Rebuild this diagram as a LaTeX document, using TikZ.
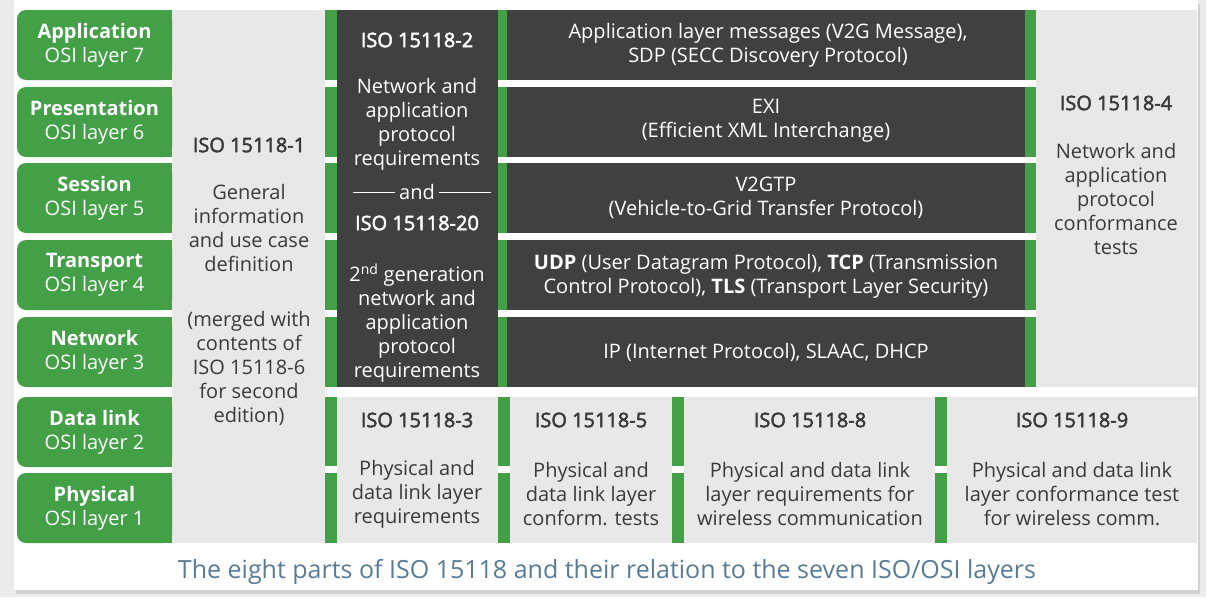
\documentclass[tikz,border=0pt]{standalone}
\usepackage{fontspec}
\setmainfont{Open Sans}
\newfontfamily\semib[FakeBold=2.5]{Open Sans}
\definecolor{osigreen}{RGB}{67,160,71}
\definecolor{darkbox}{RGB}{64,64,64}
\definecolor{lightbox}{RGB}{232,232,232}
\definecolor{textdark}{RGB}{58,58,58}
\definecolor{captioncol}{RGB}{88,124,150}
\definecolor{pagebg}{RGB}{236,236,236}
\begin{document}
\begin{tikzpicture}[x=1pt,y=-1pt,
  txt/.style={font=\fontsize{20}{24}\selectfont, align=center, inner sep=0pt},
  lt/.style={txt, text=textdark},
  wt/.style={txt, text=white},
  ttl/.style={font=\semib\fontsize{20}{24}\selectfont, align=center, inner sep=0pt},
  lttl/.style={ttl, text=textdark},
  wttl/.style={ttl, text=white},
  andline/.style={draw=white, line width=1pt}
]
\useasboundingbox (0,0) rectangle (1206,597);
% page and card
\fill[pagebg] (0,0) rectangle (1206,597);
\fill[black!18] (16,4) rectangle (1200,594);
\fill[white] (14,0) rectangle (1198,590);

% grey columns / panels
\fill[lightbox] (172,10) rectangle (325,543);
\fill[lightbox] (1036,10) rectangle (1197,387);
\fill[lightbox] (325,397) rectangle (1197,543);

% OSI layer boxes
\foreach \t/\n/\b/\k in {10/app/Application/7, 87/pres/Presentation/6, 163/sess/Session/5,
  240/trans/Transport/4, 317/net/Network/3, 397/dl/Data link/2, 473/phy/Physical/1}{
  \fill[osigreen, rounded corners=9pt] (17,\t) rectangle (172,\t+70);
  \fill[osigreen] (120,\t) rectangle (172,\t+70);
  \node[wt] (\n) at (94.5,\t+35) {\textbf{\b}\\OSI layer \k};
}

% ISO 15118-2 dark column
\fill[darkbox] (337,10) rectangle (498,387);
% dark rows with green strips
\foreach \t in {10,87,163,240,317}{
  \fill[darkbox] (507,\t) rectangle (1025,\t+70);
  \fill[osigreen] (325,\t) rectangle (337,\t+70);
  \fill[osigreen] (498,\t) rectangle (507,\t+70);
  \fill[osigreen] (1025,\t) rectangle (1036,\t+70);
}
% bottom strips
\foreach \x in {325,498,672,935}{
  \fill[white] (\x,466) rectangle (\x+12,473);
  \fill[osigreen] (\x,397) rectangle (\x+12,466);
  \fill[osigreen] (\x,473) rectangle (\x+12,543);
}

% ISO 15118-1
\node[lttl] (iso1) at (249,145) {ISO 15118-1};
\node[lt] (iso1a) at (249,228) {General\\information\\and use case\\definition};
\node[lt] (iso1b) at (249,368) {(merged with\\contents of\\ISO 15118-6\\for second\\edition)};

% ISO 15118-2 / -20
\node[wttl] (iso2) at (417,40) {ISO 15118-2};
\node[wt] (iso2a) at (417,124) {Network and\\application\\protocol\\requirements};
\node[wt] (and) at (417,192) {and};
\draw[andline] ([xshift=-4pt]and.west) -- ([xshift=-46pt]and.west);
\draw[andline] ([xshift=4pt]and.east) -- ([xshift=56pt]and.east);
\node[wttl] (iso20) at (417,223) {ISO 15118-20};
\node[wt] (iso20a) at (417,323) {2\textsuperscript{nd} generation\\network and\\application\\protocol\\requirements};

% protocol rows
\node[wt] (r7) at (768,45) {Application layer messages (V2G Message),\\SDP (SECC Discovery Protocol)};
\node[wt] (r6) at (766,121) {EXI\\(Efficient XML Interchange)};
\node[wt] (r5) at (766,198) {V2GTP\\(Vehicle-to-Grid Transfer Protocol)};
\node[wt] (r4) at (766,276) {\textbf{UDP} (User Datagram Protocol), \textbf{TCP} (Transmission\\Control Protocol), \textbf{TLS} (Transport Layer Security)};
\node[wt] (r3) at (766,352) {IP (Internet Protocol), SLAAC, DHCP};

% ISO 15118-4
\node[lttl] (iso4) at (1116,103) {ISO 15118-4};
\node[lt] (iso4a) at (1116,199) {Network and\\application\\protocol\\conformance\\tests};

% bottom parts
\node[lttl] (iso3) at (417,420) {ISO 15118-3};
\node[lt] (iso3a) at (417,494) {Physical and\\data link layer\\requirements};
\node[lttl] (iso5) at (591,420) {ISO 15118-5};
\node[lt] (iso5a) at (591,494) {Physical and\\data link layer\\conform. tests};
\node[lttl] (iso8) at (810,420) {ISO 15118-8};
\node[lt] (iso8a) at (810,494) {Physical and data link\\layer requirements for\\wireless communication};
\node[lttl] (iso9) at (1072,420) {ISO 15118-9};
\node[lt] (iso9a) at (1072,494) {Physical and data link\\layer conformance test\\for wireless comm.};

% caption
\node[txt, text=captioncol, font=\fontsize{25}{29}\selectfont] (cap) at (607,572) {The eight parts of ISO 15118 and their relation to the seven ISO/OSI layers};
\end{tikzpicture}
\end{document}
